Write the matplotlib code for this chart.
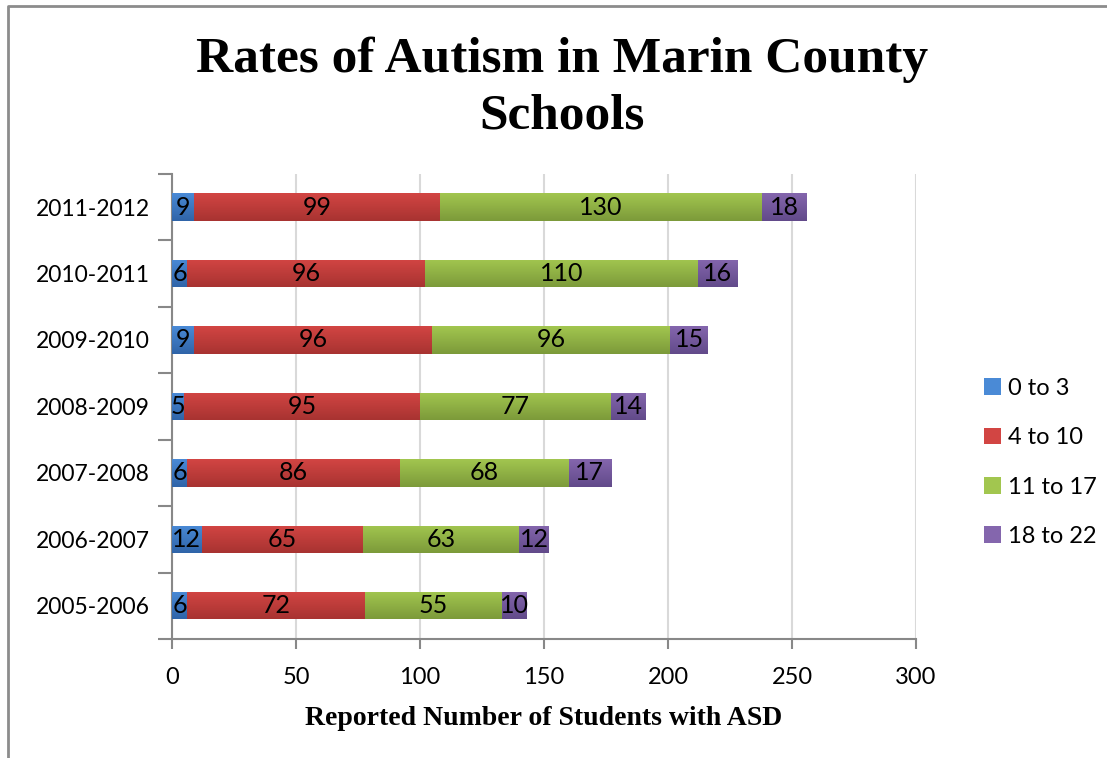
import numpy as np
import matplotlib
matplotlib.use("Agg")
import matplotlib.pyplot as plt
from matplotlib.colors import LinearSegmentedColormap
from matplotlib.lines import Line2D
from matplotlib.patches import Patch

# ---------------- DATA ---------------- #
years = ["2005-2006", "2006-2007", "2007-2008", "2008-2009",
         "2009-2010", "2010-2011", "2011-2012"]
age_0_3 = [6, 12, 6, 5, 9, 6, 9]
age_4_10 = [72, 65, 86, 95, 96, 96, 99]
age_11_17 = [55, 63, 68, 77, 96, 110, 130]
age_18_22 = [10, 12, 17, 14, 15, 16, 18]
series_names = ["0 to 3", "4 to 10", "11 to 17", "18 to 22"]
x_ticks = [0, 50, 100, 150, 200, 250, 300]
# -------------------------------------- #

# (top colour, bottom colour) for the Excel-style gradient
COLORS = [("#4a8ad6", "#2f64a8"),
          ("#d24543", "#a83331"),
          ("#a2c64f", "#7c9a3a"),
          ("#8466ad", "#624a8a")]

SANS = ["Lato", "DejaVu Sans"]
SERIF = ["Liberation Serif", "DejaVu Serif"]

fig = plt.figure(figsize=(11.07, 7.58), dpi=100)
ax = fig.add_axes([0.1554, 0.157, 0.672, 0.6136])

series = [age_0_3, age_4_10, age_11_17, age_18_22]
y = np.arange(len(years))
left = np.zeros(len(years))
grad = np.linspace(0, 1, 64).reshape(-1, 1)

for vals, name, (c_top, c_bot) in zip(series, series_names, COLORS):
    bars = ax.barh(y, vals, left=left, height=0.41, color=c_top,
                   edgecolor="none", zorder=3, label=name)
    cmap = LinearSegmentedColormap.from_list(name, [c_top, c_bot])
    for b, v in zip(bars, vals):
        x0, y0 = b.get_x(), b.get_y()
        w, h = b.get_width(), b.get_height()
        im = ax.imshow(grad, cmap=cmap, aspect="auto", origin="lower",
                       extent=[x0, x0 + w, y0 + h, y0], zorder=3.5,
                       interpolation="bicubic")
        im.set_clip_path(b)
        ax.text(x0 + w / 2, y0 + h / 2, str(v), ha="center", va="center",
                fontsize=18, family=SANS, color="black", zorder=5)
    left += np.array(vals)

ax.set_xlim(0, 300)
ax.set_ylim(-0.5, len(years) - 0.5)
ax.set_xticks(x_ticks)
ax.set_xticklabels([str(t) for t in x_ticks], family=SANS, fontsize=17)
ax.set_yticks(y)
ax.set_yticklabels(years, family=SANS, fontsize=16.5)
ax.tick_params(axis="y", length=0, pad=16)
# category separator ticks on the y axis
ax.set_yticks(np.arange(-0.5, len(years)), minor=True)
ax.tick_params(axis="y", which="minor", length=10, color="#888888",
               width=1.5, direction="out")
ax.xaxis.set_ticks_position("bottom")
ax.tick_params(axis="x", direction="out", length=7, color="#888888",
               width=1.5, pad=13)

ax.grid(axis="x", color="#d9d9d9", linewidth=1.5, zorder=0)
for s in ["top", "right"]:
    ax.spines[s].set_visible(False)
for s in ["left", "bottom"]:
    ax.spines[s].set_color("#888888")
    ax.spines[s].set_linewidth(1.5)

ax.set_xlabel("Reported Number of Students with ASD", family=SERIF,
              fontweight="bold", fontsize=20, labelpad=13)

fig.text(0.508, 0.884, "Rates of Autism in Marin County\nSchools",
         ha="center", va="center", family=SERIF, fontweight="bold",
         fontsize=37, linespacing=1.32)

handles = [Patch(facecolor=c[0], edgecolor="none") for c in COLORS]
fig.legend(handles, series_names, loc="center left",
           bbox_to_anchor=(0.87, 0.39), frameon=False,
           prop={"family": SANS, "size": 17}, handlelength=0.7,
           handleheight=0.7, handletextpad=0.3, labelspacing=1.2)

# outer chart frame (left and top edges visible)
fig.add_artist(Line2D([0.0068, 0.0068, 0.999], [0.0, 0.992, 0.992],
                      transform=fig.transFigure, color="#8c8c8c",
                      linewidth=2))

fig.savefig("out.png", dpi=100)
